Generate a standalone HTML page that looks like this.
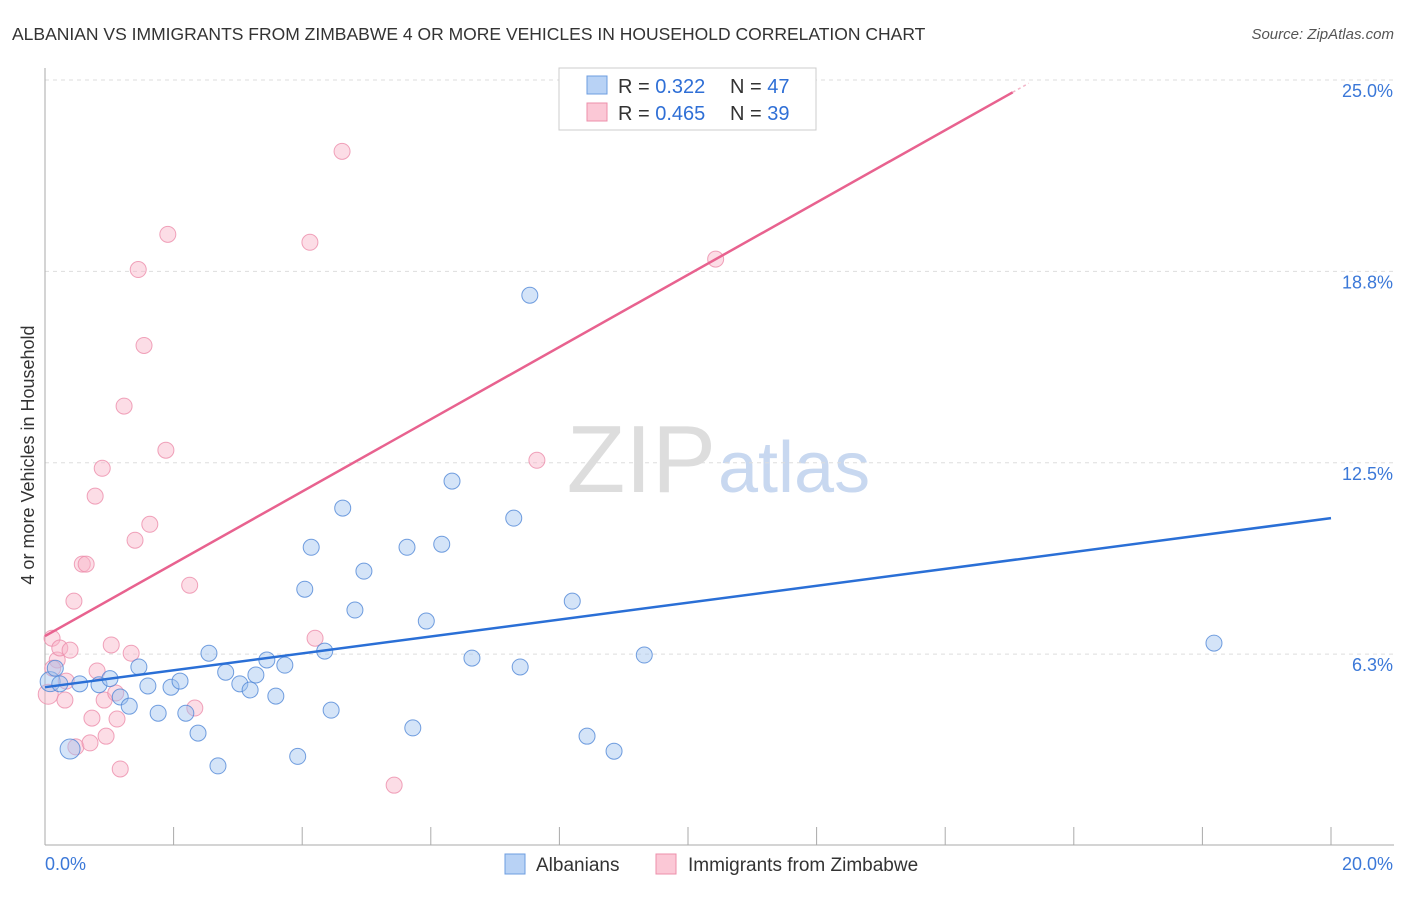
<!DOCTYPE html>
<html><head><meta charset="utf-8"><style>
body{margin:0;background:#fff;font-family:"Liberation Sans",sans-serif;}
svg text{font-family:"Liberation Sans",sans-serif;}
</style></head><body>
<svg id="c" width="1406" height="892">
<text x="12" y="40" font-size="17.5" fill="#333">ALBANIAN VS IMMIGRANTS FROM ZIMBABWE 4 OR MORE VEHICLES IN HOUSEHOLD CORRELATION CHART</text>
<text x="1394" y="39" font-size="15" fill="#555" font-style="italic" text-anchor="end">Source: ZipAtlas.com</text>
<text x="34" y="455" font-size="18" fill="#333" text-anchor="middle" transform="rotate(-90 34 455)">4 or more Vehicles in Household</text>
<text x="716" y="492" font-size="96" fill="#ddd" text-anchor="end" font-family="Liberation Serif">ZIP</text>
<text x="718" y="492" font-size="72" fill="#c8d8f0">atlas</text>
<g id="grid"></g><g id="pts"></g><g id="lines"></g>
<g>
<rect x="559" y="68" width="257" height="62" fill="#fff" stroke="#ccc"/>
<rect x="587" y="76" width="20" height="18" fill="#b8d2f5" stroke="#6d9de0"/>
<rect x="587" y="103" width="20" height="18" fill="#fbc8d6" stroke="#ec8fab"/>
<text x="618" y="93" font-size="20" fill="#333">R = <tspan fill="#2f6fd6">0.322</tspan><tspan x="730">N = </tspan><tspan fill="#2f6fd6">47</tspan></text>
<text x="618" y="120" font-size="20" fill="#333">R = <tspan fill="#2f6fd6">0.465</tspan><tspan x="730">N = </tspan><tspan fill="#2f6fd6">39</tspan></text>
</g>
<g>
<rect x="505" y="854" width="20" height="20" fill="#b8d2f5" stroke="#6d9de0"/>
<text x="536" y="871" font-size="19" fill="#333">Albanians</text>
<rect x="656" y="854" width="20" height="20" fill="#fbc8d6" stroke="#ec8fab"/>
<text x="688" y="871" font-size="19" fill="#333">Immigrants from Zimbabwe</text>
</g>
</svg>
<script>
const yTicks=[6.25,12.5,18.75,25];
const yTickLabels=["6.3%","12.5%","18.8%","25.0%"];
const xTickLabels=["0.0%","20.0%"];
const blueX=[0.39,0.08,0.23,0.54,0.84,1.01,1.17,1.31,1.46,1.60,1.76,1.96,2.10,2.19,2.38,2.55,2.69,2.81,3.03,3.19,3.28,3.45,3.59,3.73,3.93,4.04,4.14,4.35,4.45,4.63,4.82,4.96,5.63,5.72,5.93,6.17,6.33,6.64,7.29,7.39,7.54,8.20,8.43,8.85,9.32,18.18,0.16];
const blueY=[3.15,5.35,5.28,5.28,5.25,5.45,4.85,4.55,5.83,5.21,4.32,5.17,5.37,4.32,3.67,6.28,2.60,5.66,5.28,5.08,5.57,6.06,4.88,5.89,2.91,8.37,9.74,6.35,4.42,11.02,7.69,8.96,9.74,3.84,7.33,9.84,11.90,6.12,10.69,5.83,17.97,7.98,3.57,3.08,6.22,6.61,5.79];
const pinkX=[0.05,0.11,0.19,0.23,0.31,0.39,0.45,0.33,0.48,0.58,0.64,0.70,0.73,0.78,0.81,0.89,0.92,0.95,1.03,1.10,1.12,1.17,1.23,1.34,1.40,1.45,1.54,1.63,1.88,1.91,2.25,2.33,4.12,4.20,4.62,5.43,7.65,10.43,0.12];
const pinkY=[4.94,6.77,6.06,6.45,4.75,6.38,7.98,5.37,3.22,9.19,9.19,3.35,4.16,11.41,5.70,12.32,4.75,3.57,6.55,4.98,4.13,2.50,14.35,6.28,9.97,18.81,16.33,10.49,12.91,19.96,8.50,4.49,19.70,6.77,22.67,1.97,12.58,19.15,5.79];
const blueLine=[5.17,10.69];
const pinkLine=[6.84,1.18];
const NS="http://www.w3.org/2000/svg";
const X0=45,X1=1331,YB=845.5,YT=80;
function sx(v){return X0+v/20*(X1-X0);}
function sy(v){return YB-v/25*(YB-YT);}
function mk(tag,attrs,parent){const e=document.createElementNS(NS,tag);for(const k in attrs)e.setAttribute(k,attrs[k]);parent.appendChild(e);return e;}
const grid=document.getElementById('grid');
yTicks.forEach((t,i)=>{
 const l=mk('line',{x1:45,x2:1394,y1:sy(t),y2:sy(t),stroke:'#ddd','stroke-dasharray':'4,4'},grid);
 
 
 const tx=mk('text',{x:1393,y:sy(t)+17,'font-size':18,fill:'#3b78d8','text-anchor':'end'},grid);
 tx.textContent=yTickLabels[i];
 
 
});
const ax=mk('line',{x1:45,x2:45,y1:68,y2:845,stroke:'#aaa'},grid);


const bx=mk('line',{x1:45,x2:1394,y1:845,y2:845,stroke:'#aaa'},grid);


for(let i=1;i<=10;i++){
 const tk=mk('line',{x1:sx(i*2),x2:sx(i*2),y1:827,y2:845,stroke:'#aaa'},grid);
 
 
}
const xl0=mk('text',{x:45,y:870,'font-size':18,fill:'#3b78d8'},grid);xl0.textContent=xTickLabels[0];


const xl1=mk('text',{x:1393,y:870,'font-size':18,fill:'#3b78d8','text-anchor':'end'},grid);xl1.textContent=xTickLabels[1];


const pts=document.getElementById('pts');
pinkX.forEach((x,i)=>{
 const c=mk('circle',{cx:sx(x),cy:sy(pinkY[i]),r:i===0?10:8,fill:'rgba(248,180,200,0.45)',stroke:'rgba(236,140,170,0.8)','stroke-width':1},pts);
 
 
});
blueX.forEach((x,i)=>{
 const c=mk('circle',{cx:sx(x),cy:sy(blueY[i]),r:(i<2)?10:8,fill:'rgba(160,195,240,0.45)',stroke:'rgba(80,135,215,0.8)','stroke-width':1},pts);
 
 
});
const lines=document.getElementById('lines');
const bl=mk('line',{x1:sx(0),y1:sy(blueLine[0]),x2:sx(20),y2:sy(blueLine[1]),stroke:'#2a6fd6','stroke-width':2.5},lines);


const pxEnd=15.05;
const pl=mk('line',{x1:sx(0),y1:sy(pinkLine[0]),x2:sx(pxEnd),y2:sy(pinkLine[0]+pinkLine[1]*pxEnd),stroke:'#e8628f','stroke-width':2.5},lines);


const pd=mk('line',{x1:sx(pxEnd),y1:sy(pinkLine[0]+pinkLine[1]*pxEnd),x2:sx(15.3),y2:sy(pinkLine[0]+pinkLine[1]*15.3),stroke:'#f3b5c8','stroke-width':1.5,'stroke-dasharray':'3,3'},lines);


</script>
</body></html>
